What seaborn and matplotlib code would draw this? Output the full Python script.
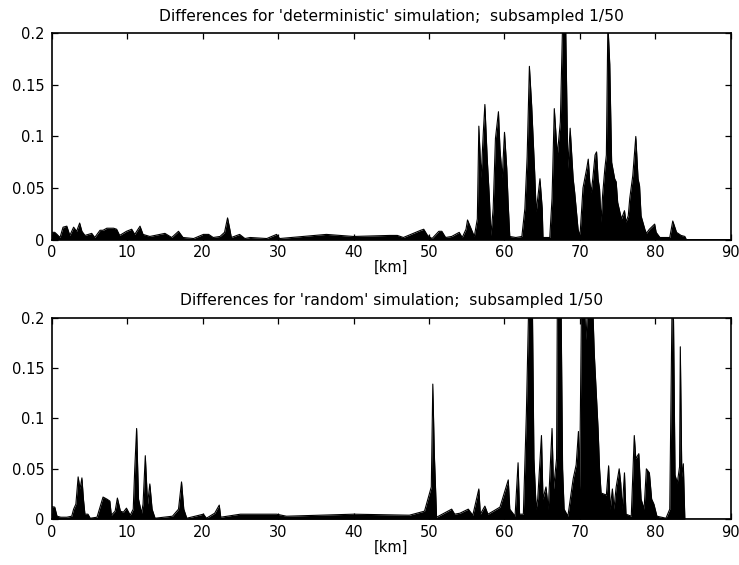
# =========================================
# DIFFERENCES PLOT (deterministic vs random)
# =========================================

import numpy as np
import pandas as pd

import matplotlib
matplotlib.use("Agg")
import matplotlib.pyplot as plt
import seaborn as sns


# =========================================
# DATA
# =========================================

det_km = [
    0.0, 0.4, 0.7, 1.1, 1.5, 2.0, 2.4, 2.9, 3.3, 3.7, 4.0, 4.4, 5.3, 5.7,
    6.4, 6.8, 7.3, 7.7, 8.2, 8.6, 9.0, 9.9, 10.6, 11.0, 11.7, 12.1, 13.0,
    15.0, 15.9, 16.8, 17.4, 18.8, 20.1, 20.8, 21.4, 22.3, 22.9, 23.3, 23.6,
    23.8, 24.9, 25.6, 26.3, 28.5, 29.8, 30.2, 36.4, 40.0, 44.8, 45.8, 46.6,
    48.9, 49.3, 49.8, 50.4, 51.3, 51.7, 52.2, 53.0, 54.0, 54.4, 54.9, 55.1,
    55.6, 56.0, 56.4, 56.6, 56.9, 57.2, 57.4, 57.7, 58.0, 58.2, 58.5, 58.8,
    59.2, 59.4, 59.7, 60.0, 60.3, 60.5, 60.7, 61.5, 62.3, 62.7, 63.0, 63.3,
    63.6, 64.0, 64.2, 64.7, 65.0, 65.1, 66.0, 66.3, 66.6, 67.0, 67.4, 67.7,
    68.1, 68.4, 68.7, 69.1, 69.3, 69.75, 70.0, 70.4, 70.9, 71.1, 71.3, 71.5,
    71.7, 72.0, 72.2, 72.4, 72.6, 72.8, 73.0, 73.3, 73.5, 73.7, 73.95, 74.2,
    74.6, 74.8, 75.0, 75.5, 75.9, 76.1, 76.4, 76.6, 77.0, 77.4, 77.7, 77.9,
    78.1, 78.6, 78.8, 79.2, 79.9, 80.1, 80.6, 81.9, 82.3, 82.8, 83.4, 83.9,
    84.1, 90.0,
]
det_val = [
    0.007, 0.007, 0.005, 0.002, 0.012, 0.013, 0.004, 0.012, 0.008, 0.016,
    0.008, 0.004, 0.006, 0.002, 0.009, 0.009, 0.011, 0.011, 0.011, 0.010,
    0.004, 0.008, 0.010, 0.005, 0.013, 0.005, 0.003, 0.006, 0.002, 0.008,
    0.002, 0.001, 0.005, 0.005, 0.002, 0.003, 0.007, 0.021, 0.010, 0.002,
    0.005, 0.001, 0.002, 0.001, 0.005, 0.001, 0.005, 0.003, 0.004, 0.004,
    0.002, 0.009, 0.010, 0.004, 0.001, 0.008, 0.008, 0.002, 0.003, 0.007,
    0.002, 0.010, 0.019, 0.010, 0.003, 0.020, 0.110, 0.060, 0.105, 0.131,
    0.080, 0.040, 0.004, 0.030, 0.098, 0.124, 0.088, 0.060, 0.104, 0.069,
    0.033, 0.003, 0.002, 0.003, 0.030, 0.080, 0.168, 0.130, 0.065, 0.027,
    0.059, 0.030, 0.002, 0.002, 0.040, 0.127, 0.082, 0.114, 0.210, 0.210,
    0.069, 0.108, 0.059, 0.046, 0.010, 0.003, 0.050, 0.069, 0.078, 0.056,
    0.046, 0.059, 0.082, 0.085, 0.059, 0.049, 0.017, 0.043, 0.069, 0.082,
    0.210, 0.170, 0.075, 0.059, 0.056, 0.036, 0.020, 0.028, 0.017, 0.023,
    0.040, 0.062, 0.100, 0.059, 0.052, 0.023, 0.010, 0.006, 0.010, 0.015,
    0.007, 0.002, 0.002, 0.018, 0.007, 0.004, 0.003, 0.000, 0.000,
]

rnd_km = [
    0.0, 0.4, 0.7, 1.2, 2.0, 2.65, 2.9, 3.2, 3.5, 3.75, 4.0, 4.2, 4.4, 4.8,
    5.1, 6.0, 6.8, 7.3, 7.7, 7.9, 8.4, 8.7, 9.1, 9.5, 9.9, 10.4, 10.8, 11.0,
    11.25, 11.5, 11.9, 12.1, 12.4, 12.7, 13.0, 13.3, 13.7, 16.0, 16.8, 17.2,
    17.5, 17.9, 19.0, 20.1, 20.5, 21.6, 22.2, 22.4, 24.1, 25.0, 26.0, 27.4,
    29.8, 31.1, 40.0, 47.4, 49.4, 50.3, 50.5, 50.7, 51.0, 52.5, 53.0, 53.4,
    54.1, 55.2, 55.8, 56.6, 56.8, 57.4, 57.8, 58.5, 59.4, 60.5, 60.7, 61.4,
    61.8, 62.0, 62.5, 62.9, 63.2, 63.7, 63.9, 64.2, 64.4, 64.9, 65.1, 65.5,
    65.8, 66.3, 66.5, 66.9, 67.0, 67.5, 67.7, 67.9, 68.4, 69.1, 69.5, 69.8,
    69.95, 70.2, 70.6, 70.8, 71.0, 71.7, 71.9, 72.4, 72.6, 72.8, 73.5, 73.8,
    74.0, 74.3, 74.5, 74.8, 75.2, 75.4, 75.6, 75.9, 76.1, 76.8, 77.2, 77.4,
    77.8, 78.1, 78.5, 78.8, 79.2, 79.5, 79.8, 80.2, 81.4, 81.9, 82.2, 82.4,
    82.6, 82.9, 83.2, 83.3, 83.5, 83.7, 83.9, 90.0,
]
rnd_val = [
    0.0125, 0.012, 0.003, 0.002, 0.002, 0.003, 0.010, 0.015, 0.042, 0.030,
    0.041, 0.020, 0.005, 0.005, 0.001, 0.002, 0.022, 0.020, 0.018, 0.004,
    0.008, 0.021, 0.008, 0.007, 0.011, 0.004, 0.010, 0.050, 0.090, 0.020,
    0.006, 0.015, 0.063, 0.015, 0.035, 0.010, 0.001, 0.003, 0.010, 0.037,
    0.010, 0.001, 0.003, 0.005, 0.001, 0.006, 0.014, 0.002, 0.004, 0.005,
    0.005, 0.005, 0.005, 0.003, 0.005, 0.004, 0.008, 0.032, 0.134, 0.065,
    0.002, 0.008, 0.010, 0.005, 0.006, 0.010, 0.004, 0.030, 0.005, 0.013,
    0.005, 0.008, 0.012, 0.039, 0.010, 0.003, 0.056, 0.005, 0.005, 0.105,
    0.210, 0.210, 0.060, 0.010, 0.020, 0.083, 0.020, 0.032, 0.010, 0.090,
    0.030, 0.060, 0.210, 0.210, 0.050, 0.010, 0.003, 0.040, 0.054, 0.087,
    0.030, 0.210, 0.210, 0.178, 0.210, 0.210, 0.164, 0.090, 0.050, 0.026,
    0.024, 0.053, 0.010, 0.030, 0.010, 0.032, 0.050, 0.036, 0.010, 0.046,
    0.005, 0.003, 0.083, 0.060, 0.065, 0.020, 0.010, 0.050, 0.046, 0.020,
    0.015, 0.003, 0.001, 0.010, 0.210, 0.197, 0.044, 0.036, 0.052, 0.171,
    0.042, 0.055, 0.000, 0.000,
]

titles = [
    "Differences for 'deterministic' simulation;  subsampled 1/50",
    "Differences for 'random' simulation;  subsampled 1/50",
]

x_ticks = [0, 10, 20, 30, 40, 50, 60, 70, 80, 90]
y_ticks = [0, 0.05, 0.1, 0.15, 0.2]
y_tick_labels = ["0", "0.05", "0.1", "0.15", "0.2"]


# =========================================
# STYLE
# =========================================

sns.set_style("ticks")
plt.rcParams["font.family"] = ["DejaVu Sans"]
plt.rcParams["text.color"] = "black"
plt.rcParams["axes.labelcolor"] = "black"
plt.rcParams["xtick.color"] = "black"
plt.rcParams["ytick.color"] = "black"
plt.rcParams["xtick.direction"] = "in"
plt.rcParams["ytick.direction"] = "in"
plt.rcParams["xtick.top"] = True
plt.rcParams["ytick.right"] = True


# =========================================
# FIGURE
# =========================================

fig = plt.figure(figsize=(7.39, 5.65), dpi=100)

ax_top = fig.add_axes([0.070, 0.576, 0.919, 0.365])
ax_bot = fig.add_axes([0.070, 0.081, 0.919, 0.357])

panels = [
    (ax_top, det_km, det_val, titles[0]),
    (ax_bot, rnd_km, rnd_val, titles[1]),
]

for ax, km, val, title in panels:

    df = pd.DataFrame({"km": km, "diff": val})

    ax.fill_between(df["km"], 0, df["diff"], color="black", linewidth=0)

    sns.lineplot(
        x="km",
        y="diff",
        data=df,
        color="black",
        linewidth=0.8,
        ax=ax
    )

    ax.set_xlim(0, 90)
    ax.set_ylim(0, 0.2)

    ax.set_xticks(x_ticks)
    ax.set_yticks(y_ticks)
    ax.set_yticklabels(y_tick_labels)

    ax.tick_params(labelsize=10.5, length=4, width=0.9)
    ax.tick_params(axis="y", pad=5)
    ax.tick_params(axis="x", pad=4)

    for spine in ax.spines.values():
        spine.set_linewidth(1.2)
        spine.set_color("black")

    ax.set_xlabel("[km]", fontsize=10.5, labelpad=0)
    ax.set_ylabel("")
    ax.set_title(title, fontsize=11.2, pad=9)


plt.savefig("out.png", dpi=100)
